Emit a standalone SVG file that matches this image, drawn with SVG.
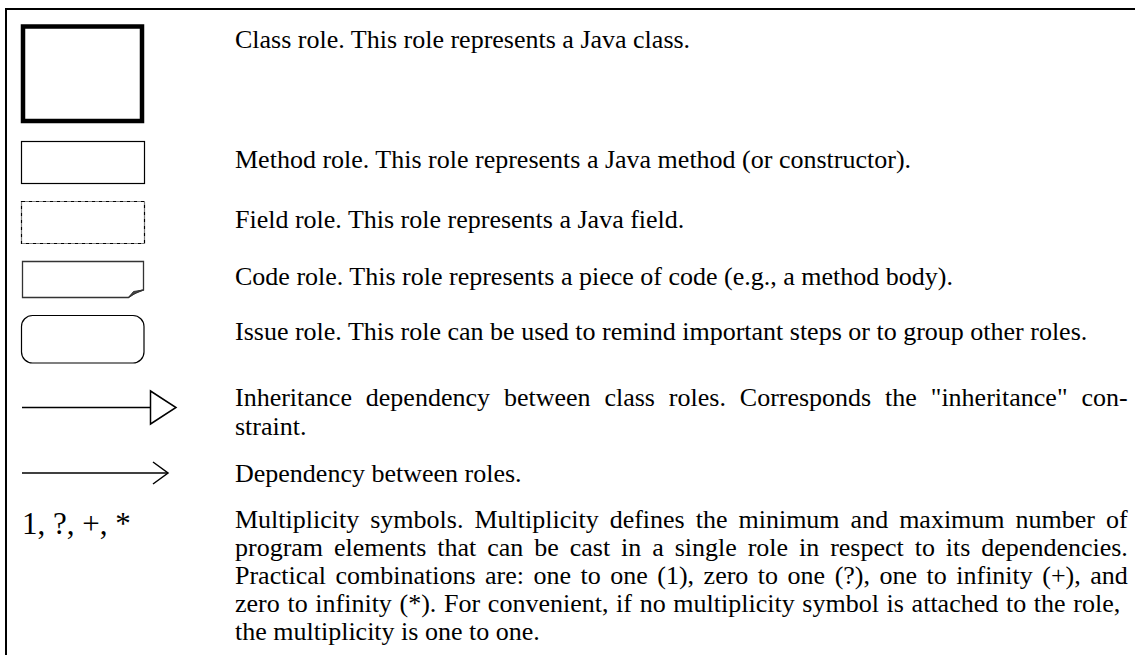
<svg xmlns="http://www.w3.org/2000/svg" width="1135" height="655" viewBox="0 0 1135 655">
<style>
text{font-family:"Liberation Serif","Times New Roman",serif;font-size:26px;fill:#000}
.big{font-size:31px}
.thin{fill:#fff;stroke:#000;stroke-width:1.2}
.ln{stroke:#000;stroke-width:1.5;fill:none}
</style>
<rect width="1135" height="655" fill="#fff"/>
<g id="frame">
<line x1="6" y1="9" x2="1135" y2="9" stroke="#000" stroke-width="2"/>
<line x1="6" y1="8" x2="6" y2="655" stroke="#000" stroke-width="2"/>
</g>
<g id="class-role">
<rect x="23" y="26.5" width="119" height="94.5" fill="#fff" stroke="#000" stroke-width="4.5"/>
<text x="235" y="48">Class role. This role represents a Java class.</text>
</g>
<g id="method-role">
<rect class="thin" x="21.5" y="141.5" width="123" height="42"/>
<text x="235" y="168">Method role. This role represents a Java method (or constructor).</text>
</g>
<g id="field-role">
<rect class="thin" x="21.5" y="201.5" width="123" height="42" stroke-dasharray="4 1 1 1"/>
<text x="235" y="228">Field role. This role represents a Java field.</text>
</g>
<g id="code-role">
<path d="M22.5,261.5 H143.5 V290 Q135,291.5 128.5,297.5 H22.5 Z" fill="#fff" stroke="#333" stroke-width="1.3"/>
<path d="M143.5,290 L133.5,291.5 L128.5,297.5 Q134,293.5 143.5,290 Z" fill="#444" stroke="#333" stroke-width="1"/>
<text x="235" y="285">Code role. This role represents a piece of code (e.g., a method body).</text>
</g>
<g id="issue-role">
<rect class="thin" x="21.5" y="315.5" width="122.5" height="47.5" rx="11" ry="11" stroke-width="1.5"/>
<text x="235" y="340">Issue role. This role can be used to remind important steps or to group other roles.</text>
</g>
<g id="connectors">
<g id="inheritance-arrow">
<line class="ln" x1="22" y1="407.5" x2="150.5" y2="407.5"/>
<polygon points="150.5,391 176,407.5 150.5,424" fill="#fff" stroke="#000" stroke-width="1.5"/>
</g>
<g id="dependency-arrow">
<line class="ln" x1="22" y1="473" x2="167" y2="473"/>
<polyline class="ln" points="153,462 168,473 153,484"/>
</g>
</g>
<g id="inheritance-text">
<text x="235" y="406" word-spacing="7.4">Inheritance dependency between class roles. Corresponds the &quot;inheritance&quot; con-</text>
<text x="235" y="435">straint.</text>
</g>
<g id="dependency-text">
<text x="235" y="482">Dependency between roles.</text>
</g>
<g id="multiplicity">
<text class="big" x="22" y="534">1, ?, +, *</text>
<text x="235" y="528" word-spacing="4.5">Multiplicity symbols. Multiplicity defines the minimum and maximum number of</text>
<text x="235" y="556" word-spacing="4.42">program elements that can be cast in a single role in respect to its dependencies.</text>
<text x="235" y="584" word-spacing="3.0">Practical combinations are: one to one (1), zero to one (?), one to infinity (+), and</text>
<text x="235" y="612" word-spacing="1.18">zero to infinity (*). For convenient, if no multiplicity symbol is attached to the role,</text>
<text x="235" y="640">the multiplicity is one to one.</text>
</g>
</svg>
